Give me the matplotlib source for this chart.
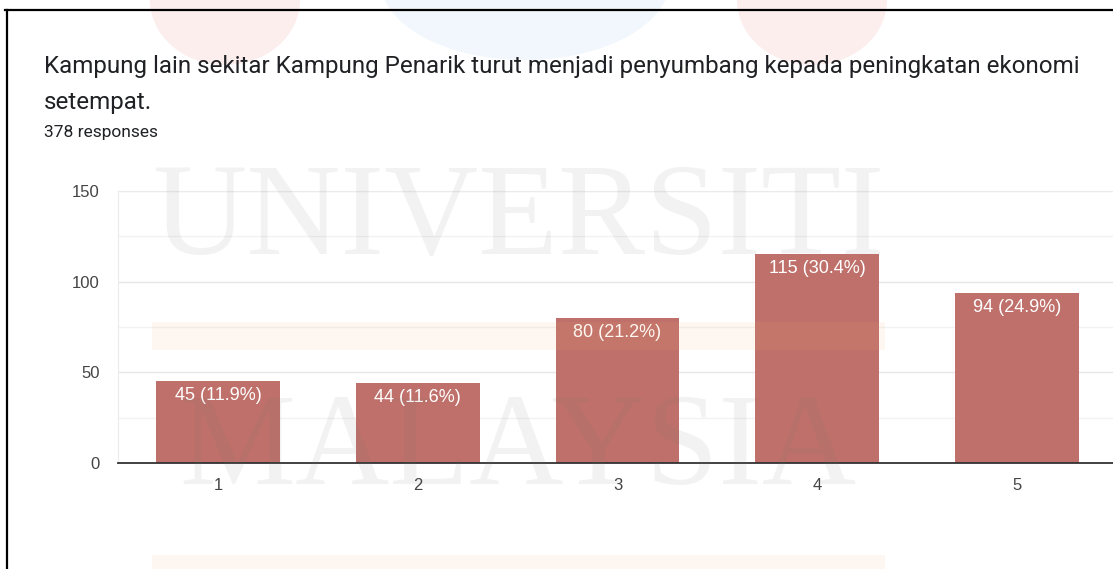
import matplotlib
matplotlib.use("Agg")
import matplotlib.pyplot as plt
from matplotlib.patches import Ellipse, Rectangle

categories = ["1", "2", "3", "4", "5"]
counts = [45, 44, 80, 115, 94]
percents = ["11.9%", "11.6%", "21.2%", "30.4%", "24.9%"]
yticks = [0, 50, 100, 150]
title = "Kampung lain sekitar Kampung Penarik turut menjadi penyumbang kepada peningkatan ekonomi\nsetempat."
subtitle = "378 responses"

W, H = 1113, 569
fig = plt.figure(figsize=(W / 100, H / 100), dpi=100)
fig.patch.set_facecolor("white")

# background watermark circles (top)
bg = fig.add_axes([0, 0, 1, 1], zorder=0)
bg.set_xlim(0, W)
bg.set_ylim(H, 0)
bg.axis("off")
bg.add_patch(Ellipse((225, 0), 150, 130, color="#fdeeee", lw=0))
bg.add_patch(Ellipse((525, -20), 290, 160, color="#f1f7fc", lw=0))
bg.add_patch(Ellipse((812, 0), 150, 130, color="#fdeeee", lw=0))
# frame lines
bg.plot([5, W], [10, 10], color="black", lw=1.6)
bg.plot([7, 7], [10, H], color="black", lw=1.6)

fig.text(44 / W, 1 - 55 / H, title, ha="left", va="top", fontsize=17.4,
         family="Roboto", color="#202124", linespacing=1.72)
fig.text(44 / W, 1 - 125 / H, subtitle, ha="left", va="top", fontsize=12.5,
         family="Roboto", color="#202124")

ax = fig.add_axes([118 / W, 1 - 463 / H, (1117 - 118) / W, (463 - 191) / H], zorder=1)
ax.patch.set_alpha(0)
x = list(range(1, len(categories) + 1))
bars = ax.bar(x, counts, width=0.62, color="#bf706a", zorder=2)
for xi, c, p in zip(x, counts, percents):
    ax.text(xi, c - 8, f"{c} ({p})", ha="center", va="center", color="white",
            fontsize=13, family="Liberation Sans", zorder=3)

ax.set_xlim(0.5, 5.5)
ax.set_ylim(0, 150)
ax.set_yticks(yticks)
ax.set_yticks([25, 75, 125], minor=True)
ax.set_xticks(x)
ax.set_xticklabels(categories)
ax.grid(axis="y", which="major", color="#e6e6e6", lw=1, zorder=0)
ax.grid(axis="y", which="minor", color="#f2f2f2", lw=1, zorder=0)
ax.tick_params(axis="both", which="both", length=0, labelsize=12, colors="#444444", pad=11)
ax.tick_params(axis="y", pad=13)
for lab in ax.get_xticklabels() + ax.get_yticklabels():
    lab.set_family("Liberation Sans")
ax.spines["right"].set_visible(False)
ax.spines["top"].set_color("#ebebeb")
ax.spines["left"].set_color("#ebebeb")
ax.spines["bottom"].set_color("#333333")
ax.spines["bottom"].set_linewidth(1.3)

# watermark overlay
wm = fig.add_axes([0, 0, 1, 1], zorder=5)
wm.set_xlim(0, W)
wm.set_ylim(H, 0)
wm.axis("off")
wm.add_patch(Rectangle((152, 322), 733, 28, color="#f7b070", alpha=0.1, lw=0))
wm.add_patch(Rectangle((152, 555), 733, 20, color="#f7b070", alpha=0.1, lw=0))
wm.text(518, 222, "UNIVERSITI", ha="center", va="center", fontsize=94,
        family="Liberation Serif", color="#777777", alpha=0.09)
wm.text(518, 452, "MALAYSIA", ha="center", va="center", fontsize=94,
        family="Liberation Serif", color="#777777", alpha=0.09)

fig.savefig("out.png", dpi=100)
